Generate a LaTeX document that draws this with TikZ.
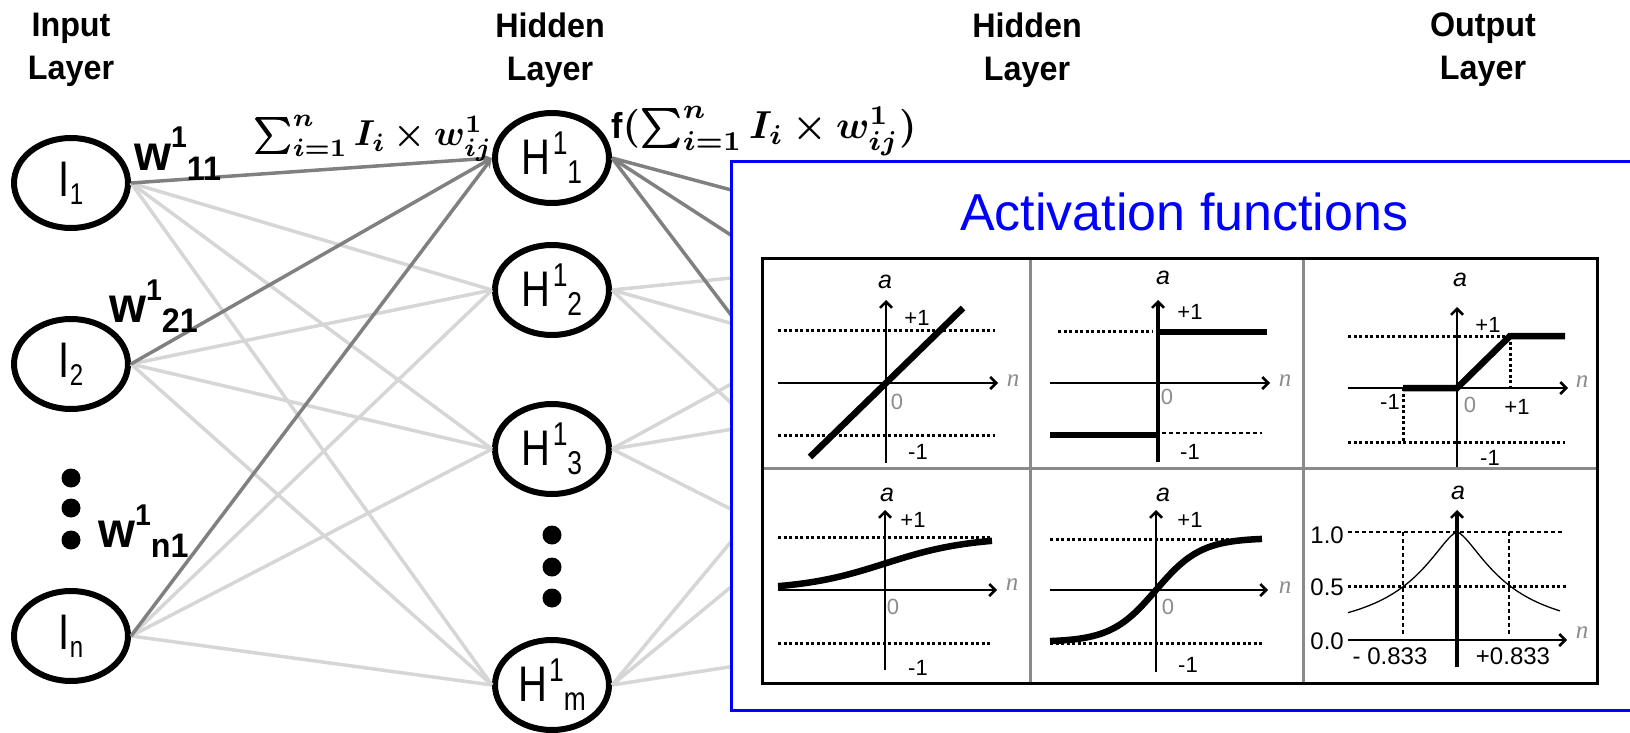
\documentclass[tikz,border=0pt]{standalone}
\usepackage{fontspec}
\usepackage{bm}
\usetikzlibrary{arrows.meta,shapes.geometric}
\setmainfont{Liberation Sans}
\newfontfamily\tfont[FakeStretch=0.95]{Liberation Sans}
\newfontfamily\nfont[FakeStretch=0.8]{Liberation Sans}
\newfontfamily\sfont{Liberation Serif}
\definecolor{edark}{HTML}{808080}
\definecolor{elight}{HTML}{D6D6D6}
\definecolor{tgray}{HTML}{8C8C8C}
\definecolor{gridgray}{HTML}{8A8A8A}
\newcommand\Ilab[1]{\nfont\fontsize{50}{50}\selectfont I\raisebox{-8pt}{\fontsize{30}{30}\selectfont #1}}
\newcommand\Hlab[1]{\nfont\fontsize{50}{50}\selectfont H\kern2pt\raisebox{20pt}{\fontsize{33}{33}\selectfont 1}\raisebox{-9pt}{\fontsize{33}{33}\selectfont #1}}
\newcommand\wlab[1]{\tfont\bfseries\fontsize{50}{50}\selectfont w\raisebox{22pt}{\fontsize{30}{30}\selectfont 1}\raisebox{-10pt}{\fontsize{34}{34}\selectfont #1}}
\newcommand\sumexpr{\bm{\sum_{i=1}^{n} I_i \times w_{ij}^{1}}}
\begin{document}
\begin{tikzpicture}[x=1pt,y=-1pt,
  neuron/.style={draw, ellipse, line width=6pt, minimum width=114pt, minimum height=90pt, inner sep=0pt, fill=white},
  strong/.style={draw=edark, line width=3.5pt},
  weak/.style={draw=elight, line width=3.5pt},
  ttl/.style={font=\tfont\bfseries\fontsize{34}{43}\selectfont, align=center, inner sep=0pt},
  wt/.style={anchor=base west, inner sep=0pt},
  dotnode/.style={circle, fill=black, minimum size=19pt, inner sep=0pt},
  tip/.style={-{Straight Barb[length=6pt,width=12pt,line width=2.5pt]}},
  plotaxis/.style={line width=1.8pt},
  thickln/.style={line width=6.5pt},
  dotln/.style={line width=3pt, dash pattern=on 3pt off 2.5pt},
  thindash/.style={line width=1.3pt, dash pattern=on 4pt off 3pt},
  plab/.style={font=\fontsize{22}{22}\selectfont, inner sep=0pt},
  vlab/.style={font=\fontsize{24}{24}\selectfont, inner sep=0pt},
  alab/.style={font=\itshape\fontsize{25}{25}\selectfont, inner sep=0pt},
  nlab/.style={font=\sfont\itshape\fontsize{25}{25}\selectfont, text=tgray, inner sep=0pt},
  zlab/.style={font=\fontsize{22}{22}\selectfont, text=tgray, inner sep=0pt}
]
\useasboundingbox (0,0) rectangle (1630,733);
\clip (0,0) rectangle (1630,733);

% titles
\node[ttl] (tIn) at (71,50) {Input\\Layer};
\node[ttl] (tH1) at (550,50) {Hidden\\Layer};
\node[ttl] (tH2) at (1027,50) {Hidden\\Layer};
\node[ttl] (tOut) at (1483,50) {Output\\Layer};

% neurons
\node[neuron] (I1) at (71,183) {\Ilab{1}};
\node[neuron] (I2) at (71,364) {\Ilab{2}};
\node[neuron] (In) at (71,636) {\Ilab{n}};
\node[neuron] (H1) at (552,158) {\Hlab{1}};
\node[neuron] (H2) at (552,290) {\Hlab{2}};
\node[neuron] (H3) at (552,449) {\Hlab{3}};
\node[neuron] (Hm) at (552,685) {\Hlab{m}};
\coordinate (J1) at (970,254);
\coordinate (J2) at (970,390);
\coordinate (J3) at (970,630);

\node[dotnode] (di1) at (71,478) {};
\node[dotnode] (di2) at (71,508) {};
\node[dotnode] (di3) at (71,540) {};
\node[dotnode] (dh1) at (552,535) {};
\node[dotnode] (dh2) at (552,567) {};
\node[dotnode] (dh3) at (552,598) {};

% light edges
\foreach \s in {I1,I2,In}{
  \foreach \t in {H2,H3,Hm}{
    \draw[weak] (\s.east) -- (\t.west);
  }
}
\foreach \s in {H2,H3,Hm}{
  \foreach \t in {J1,J2,J3}{
    \draw[weak] (\s.east) -- (\t);
  }
}
% dark edges
\foreach \s in {I1,I2,In}{
  \draw[strong,-{Stealth[length=10pt,width=9pt]}] (\s.east) -- (H1.west);
}
\foreach \t in {J1,J2,J3}{
  \draw[strong] (H1.east) -- (\t);
}

% weights
\node[wt] (w11) at (134,170) {\wlab{11}};
\node[wt] (w21) at (109,322) {\wlab{21}};
\node[wt] (wn1) at (98,547) {\wlab{n1}};

% formulas
\node[wt] (sumlab) at (253,146) {\scalebox{3.6}{$\sumexpr$}};
\node[wt] (flab) at (611,139) {{\tfont\bfseries\fontsize{36}{36}\selectfont f}\scalebox{3.9}{$\bm{(}\sumexpr\bm{)}$}};

% activation box
\draw[blue, line width=3pt, fill=white] (731,161) rectangle (1680,710);
\node[anchor=base west, inner sep=0pt, text=blue, font=\fontsize{52}{52}\selectfont] (act) at (960,230) {Activation functions};

% table
\draw[gridgray, line width=3pt] (762,468) -- (1597,468);
\draw[gridgray, line width=3pt] (1030,258) -- (1030,683);
\draw[gridgray, line width=3pt] (1303,258) -- (1303,683);
\draw[black, line width=3pt] (762,258) rectangle (1597,683);

% cell 1: linear
\draw[plotaxis,tip] (886,463) -- (886,300);
\draw[plotaxis,tip] (778,383) -- (998,383);
\draw[dotln] (778,330) -- (995,330);
\draw[dotln] (778,435) -- (995,435);
\draw[thickln] (810,457) -- (963,308);
\node[alab] (a1) at (885,282) {a};
\node[plab] (p1) at (917,318) {+1};
\node[zlab] (z1) at (897,402) {0};
\node[plab] (m1) at (918,452) {-1};
\node[nlab] (n1) at (1013,381) {n};

% cell 2: hard limit
\draw[line width=4.5pt,tip] (1158,462) -- (1158,300);
\draw[plotaxis,tip] (1050,383) -- (1270,383);
\draw[dotln] (1058,331) -- (1152,331);
\draw[thickln] (1160,332) -- (1267,332);
\draw[thickln] (1050,435) -- (1158,435);
\draw[thindash] (1162,433) -- (1262,433);
\node[alab] (a2) at (1163,278) {a};
\node[plab] (p2) at (1190,312) {+1};
\node[zlab] (z2) at (1167,397) {0};
\node[plab] (m2) at (1190,452) {-1};
\node[nlab] (n2) at (1285,381) {n};

% cell 3: saturating linear
\draw[plotaxis,tip] (1457,467) -- (1457,307);
\draw[plotaxis,tip] (1348,388) -- (1568,388);
\draw[dotln] (1348,336) -- (1510,336);
\draw[dotln] (1510,336) -- (1510,388);
\draw[dotln] (1403,388) -- (1403,442);
\draw[dotln] (1348,442) -- (1565,442);
\draw[thickln] (1403,388) -- (1457,388) -- (1510,336) -- (1565,336);
\node[alab] (a3) at (1460,280) {a};
\node[plab] (p3) at (1488,325) {+1};
\node[plab] (m3a) at (1390,402) {-1};
\node[zlab] (z3) at (1470,405) {0};
\node[plab] (p3b) at (1517,407) {+1};
\node[plab] (m3) at (1490,458) {-1};
\node[nlab] (n3) at (1582,382) {n};

% cell 4: log-sigmoid
\draw[plotaxis,tip] (885,670) -- (885,510);
\draw[plotaxis,tip] (778,590) -- (997,590);
\draw[dotln] (778,537) -- (992,537);
\draw[dotln] (778,643) -- (992,643);
\draw[thickln] plot[domain=-107:107, samples=60, smooth] ({885+\x},{590-53/(1+exp(-\x/42))});
\node[alab] (a4) at (887,495) {a};
\node[plab] (p4) at (913,520) {+1};
\node[zlab] (z4) at (893,607) {0};
\node[plab] (m4) at (918,668) {-1};
\node[nlab] (n4) at (1012,585) {n};

% cell 5: tanh
\draw[plotaxis,tip] (1156,672) -- (1156,510);
\draw[plotaxis,tip] (1050,590) -- (1268,590);
\draw[dotln] (1050,539) -- (1263,539);
\draw[dotln] (1050,643) -- (1263,643);
\draw[thickln] plot[domain=-106:106, samples=60, smooth] ({1156+\x},{590-52*tanh(\x/45)});
\node[alab] (a5) at (1163,495) {a};
\node[plab] (p5) at (1190,520) {+1};
\node[zlab] (z5) at (1168,607) {0};
\node[plab] (m5) at (1188,665) {-1};
\node[nlab] (n5) at (1285,588) {n};

% cell 6: radial basis
\draw[thindash] (1348,532) -- (1563,532);
\draw[dotln] (1348,586) -- (1567,586);
\draw[thindash] (1403,532) -- (1403,635);
\draw[thindash] (1509,532) -- (1509,635);
\draw[plotaxis,tip] (1348,640) -- (1567,640);
\draw[line width=1.3pt] plot[domain=-109:103, samples=71, smooth] ({1457+\x},{640-108/(1+pow(abs(\x)/53,1.5))});
\draw[line width=4pt,tip] (1457,667) -- (1457,510);
\node[alab] (a6) at (1458,493) {a};
\node[vlab, anchor=east] (v10) at (1344,535) {1.0};
\node[vlab, anchor=east] (v05) at (1344,587) {0.5};
\node[vlab, anchor=east] (v00) at (1344,641) {0.0};
\node[vlab] (xm) at (1390,656) {- 0.833};
\node[vlab] (xp) at (1513,656) {+0.833};
\node[nlab] (n6) at (1582,633) {n};
\end{tikzpicture}
\end{document}
